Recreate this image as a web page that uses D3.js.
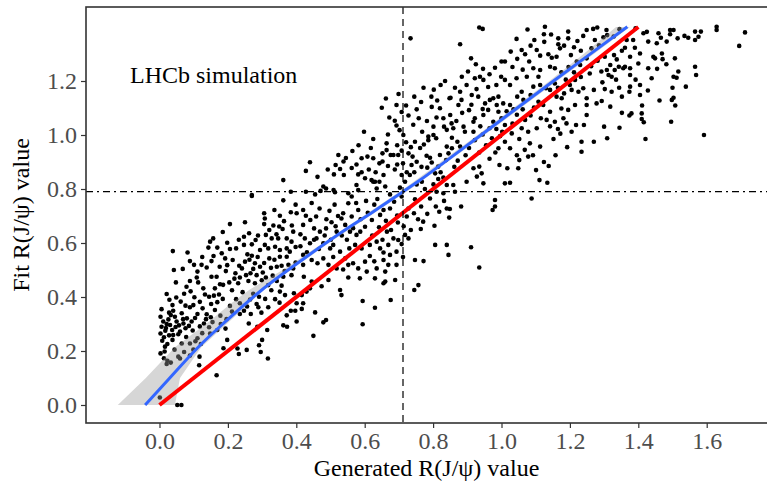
<!DOCTYPE html>
<html><head><meta charset="utf-8">
<script src="https://cdn.jsdelivr.net/npm/d3@7"></script>
<style>html,body{margin:0;padding:0;background:#fff;}svg{display:block;}</style>
</head><body>
<svg id="chart" width="767" height="485"></svg>
<script>
// ---- data ----
const xTicks = [0, 0.2, 0.4, 0.6, 0.8, 1.0, 1.2, 1.4, 1.6];
const yTicks = [0, 0.2, 0.4, 0.6, 0.8, 1.0, 1.2];
const xTitle = "Generated R(J/\u03C8) value";
const yTitle = "Fit R(J/\u03C8) value";
const annotation = "LHCb simulation";
const vLineX = 0.712;
const hLineY = 0.79;
const redX = [0, 1.4];
const redY = [0, 1.4];
const blueX = [-0.042, 0.030, 0.113, 0.185, 0.299, 0.430, 0.528, 0.625, 0.712, 0.762, 0.957, 1.151, 1.368];
const blueY = [0, 0.100, 0.214, 0.300, 0.426, 0.549, 0.636, 0.716, 0.790, 0.833, 1.016, 1.199, 1.401];
const bandY  = [0, 0.1, 0.214, 0.302, 0.377, 0.426, 0.5, 0.6, 0.8, 1.0, 1.2, 1.3, 1.4];
const bandLo = [-0.122, -0.040, 0.045, 0.138, 0.210, 0.262, 0.360, 0.478, 0.714, 0.930, 1.140, 1.240, 1.335];
const bandHi = [0.045, 0.060, 0.122, 0.198, 0.262, 0.305, 0.384, 0.495, 0.734, 0.950, 1.162, 1.270, 1.375];
const samples = [
[0.021,0.411],[0.091,0.421],[0.102,0.399],[0.145,0.401],[0.159,0.405],[0.174,0.409],[0.185,0.393],[0.169,0.381],[0.151,0.374],[0.206,0.367],[0.235,0.377],[0.265,0.391],[0.284,0.374],[0.318,0.362],[0.289,0.362],[0.352,0.420],[0.367,0.407],[0.393,0.414],[0.401,0.377],[0.062,0.383],[0.076,0.368],[0.089,0.362],[0.099,0.370],[0.038,0.370],[0.040,0.349],[0.033,0.333],[0.003,0.327],[0.011,0.309],[0.021,0.300],[0.006,0.290],[0.017,0.275],[0.037,0.278],[0.050,0.309],[0.057,0.295],[0.070,0.302],[0.076,0.284],[0.086,0.293],[0.111,0.337],[0.126,0.358],[0.138,0.336],[0.150,0.325],[0.130,0.302],[0.145,0.288],[0.155,0.307],[0.235,0.337],[0.247,0.349],[0.267,0.337],[0.291,0.401],[0.351,0.379],[0.384,0.349],[0.372,0.332],[0.397,0.349],[0.401,0.309],[0.373,0.290],[0.362,0.295],[0.003,0.265],[0.013,0.251],[0.028,0.258],[0.038,0.241],[0.023,0.226],[0.065,0.228],[0.089,0.228],[0.105,0.236],[0.111,0.247],[0.148,0.265],[0.169,0.278],[0.179,0.300],[0.193,0.283],[0.261,0.302],[0.286,0.290],[0.315,0.278],[0.003,0.191],[0.013,0.173],[0.023,0.164],[0.033,0.157],[0.021,0.152],[0.060,0.172],[0.089,0.183],[0.117,0.179],[0.116,0.147],[0.228,0.209],[0.232,0.189],[0.255,0.204],[0.291,0.221],[0.296,0.196],[0.300,0.241],[0.317,0.172],[0.198,0.241],[0.167,0.110],[0.001,0.028],[0.052,0.0],[0.064,0.0],[0.026,0.317],[0.045,0.327],[0.065,0.340],[0.080,0.321],[0.094,0.309],[0.031,0.296],[0.060,0.272],[0.040,0.259],[0.016,0.216],[0.187,0.210],[0.055,0.179],
[0.270,0.774],[0.306,0.710],[0.308,0.691],[0.384,0.714],[0.401,0.710],[0.206,0.670],[0.250,0.677],[0.306,0.670],[0.333,0.665],[0.350,0.661],[0.364,0.681],[0.360,0.652],[0.387,0.665],[0.391,0.642],[0.311,0.630],[0.328,0.617],[0.347,0.617],[0.372,0.617],[0.386,0.605],[0.247,0.623],[0.281,0.611],[0.157,0.617],[0.148,0.605],[0.198,0.601],[0.169,0.583],[0.143,0.583],[0.224,0.580],[0.247,0.593],[0.270,0.595],[0.308,0.593],[0.294,0.574],[0.318,0.580],[0.338,0.586],[0.352,0.574],[0.372,0.580],[0.381,0.568],[0.039,0.570],[0.082,0.565],[0.089,0.533],[0.123,0.519],[0.138,0.509],[0.152,0.533],[0.182,0.562],[0.192,0.543],[0.214,0.537],[0.233,0.516],[0.250,0.531],[0.257,0.558],[0.270,0.553],[0.279,0.525],[0.294,0.512],[0.274,0.504],[0.321,0.543],[0.352,0.549],[0.372,0.549],[0.343,0.512],[0.357,0.516],[0.377,0.519],[0.391,0.506],[0.042,0.500],[0.068,0.504],[0.111,0.494],[0.109,0.472],[0.089,0.459],[0.113,0.454],[0.048,0.454],[0.152,0.475],[0.167,0.475],[0.177,0.447],[0.194,0.496],[0.204,0.454],[0.222,0.488],[0.235,0.472],[0.253,0.481],[0.260,0.459],[0.284,0.481],[0.302,0.491],[0.311,0.472],[0.331,0.479],[0.343,0.459],[0.362,0.475],[0.386,0.481],[0.230,0.451],[0.279,0.451],[0.318,0.444],[0.357,0.442],[0.079,0.438],[0.128,0.432],[0.162,0.432],
[0.420,0.722],[0.497,0.719],[0.562,0.772],[0.552,0.747],[0.581,0.722],[0.537,0.710],[0.532,0.691],[0.637,0.763],[0.655,0.722],[0.674,0.728],[0.686,0.753],[0.728,0.728],[0.723,0.698],[0.744,0.710],[0.771,0.679],[0.791,0.765],[0.808,0.735],[0.818,0.716],[0.832,0.756],[0.840,0.728],[0.420,0.667],[0.441,0.685],[0.452,0.654],[0.469,0.642],[0.487,0.654],[0.503,0.677],[0.518,0.642],[0.543,0.667],[0.557,0.642],[0.576,0.630],[0.601,0.660],[0.621,0.685],[0.645,0.704],[0.665,0.642],[0.684,0.617],[0.698,0.611],[0.718,0.630],[0.728,0.617],[0.804,0.664],[0.806,0.593],[0.840,0.593],[0.845,0.556],[0.425,0.617],[0.440,0.599],[0.459,0.617],[0.479,0.599],[0.499,0.580],[0.508,0.593],[0.528,0.568],[0.555,0.580],[0.572,0.593],[0.591,0.580],[0.615,0.593],[0.635,0.605],[0.645,0.580],[0.669,0.593],[0.674,0.556],[0.693,0.568],[0.655,0.537],[0.669,0.519],[0.660,0.494],[0.693,0.519],[0.747,0.537],[0.772,0.533],[0.757,0.444],[0.745,0.426],[0.420,0.556],[0.420,0.519],[0.445,0.537],[0.479,0.543],[0.494,0.519],[0.518,0.506],[0.543,0.543],[0.552,0.519],[0.581,0.506],[0.601,0.531],[0.606,0.494],[0.586,0.469],[0.635,0.506],[0.630,0.469],[0.552,0.472],[0.494,0.463],[0.474,0.440],[0.445,0.457],[0.422,0.475],[0.440,0.432],[0.416,0.407],[0.528,0.426],[0.532,0.407],[0.655,0.451],[0.660,0.457],[0.689,0.463],[0.594,0.385],[0.630,0.360],[0.676,0.389],[0.455,0.343],[0.487,0.315],[0.479,0.306],[0.594,0.299],[0.416,0.356],[0.420,0.377],[0.430,0.420],[0.450,0.256],
[0.650,1.101],[0.693,1.111],[0.721,1.109],[0.752,1.095],[0.796,1.104],[0.820,1.099],[0.848,1.136],[0.672,1.065],[0.688,1.053],[0.693,1.035],[0.810,1.065],[0.830,1.062],[0.832,1.031],[0.801,1.031],[0.598,1.012],[0.713,1.000],[0.786,0.994],[0.801,1.000],[0.809,0.988],[0.840,1.019],[0.664,0.969],[0.721,0.973],[0.747,0.975],[0.773,0.965],[0.786,0.981],[0.840,0.957],[0.664,0.944],[0.708,0.942],[0.728,0.932],[0.564,0.941],[0.523,0.926],[0.591,0.914],[0.608,0.920],[0.625,0.914],[0.676,0.926],[0.684,0.926],[0.698,0.926],[0.740,0.920],[0.781,0.923],[0.791,0.916],[0.820,0.926],[0.845,0.932],[0.440,0.899],[0.576,0.891],[0.643,0.895],[0.695,0.891],[0.752,0.901],[0.737,0.889],[0.783,0.879],[0.815,0.883],[0.515,0.889],[0.528,0.874],[0.428,0.867],[0.510,0.854],[0.539,0.852],[0.581,0.854],[0.591,0.862],[0.601,0.840],[0.625,0.827],[0.630,0.827],[0.620,0.833],[0.643,0.827],[0.660,0.809],[0.655,0.852],[0.708,0.852],[0.723,0.862],[0.732,0.852],[0.718,0.827],[0.703,0.805],[0.752,0.817],[0.767,0.827],[0.776,0.800],[0.801,0.817],[0.815,0.837],[0.830,0.842],[0.840,0.815],[0.479,0.809],[0.471,0.793],[0.487,0.802],[0.509,0.796],[0.513,0.788],[0.455,0.780],[0.428,0.790],[0.384,0.790],[0.576,0.815],[0.581,0.796],[0.552,0.784],[0.635,0.802],[0.674,0.780],[0.810,0.790],[0.830,0.784],
[0.270,0.778],[0.362,0.833],[0.734,1.358],
[0.935,1.398],[0.945,1.393],[0.879,1.336],[0.911,1.284],[0.835,1.200],[1.076,1.391],[1.127,1.401],[1.124,1.373],[1.044,1.356],[1.027,1.309],[1.059,1.315],[1.069,1.299],[1.103,1.315],[1.113,1.294],[1.137,1.299],[1.147,1.286],[1.161,1.290],[1.166,1.358],[1.166,1.336],[1.195,1.383],[1.222,1.348],[1.249,1.389],[1.268,1.393],[1.280,1.398],[1.239,1.367],[1.273,1.352],[1.263,1.321],[1.183,1.331],[1.171,1.321],[1.000,1.272],[1.010,1.272],[0.981,1.249],[0.999,1.216],[1.010,1.204],[1.044,1.210],[1.081,1.272],[1.093,1.247],[1.113,1.241],[1.074,1.216],[1.108,1.216],[1.142,1.253],[1.156,1.247],[1.203,1.296],[1.220,1.272],[1.230,1.259],[1.249,1.284],[0.884,1.216],[0.922,1.210],[0.937,1.216],[0.947,1.204],[0.961,1.178],[0.927,1.170],[0.913,1.148],[0.879,1.160],[0.864,1.175],[0.851,1.138],[0.883,1.130],[0.874,1.111],[0.854,1.043],[0.859,1.025],[0.889,1.031],[0.893,1.012],[0.918,1.049],[0.922,1.062],[0.947,1.074],[0.945,1.096],[0.952,1.117],[0.966,1.130],[0.976,1.136],[0.991,1.142],[1.005,1.117],[1.025,1.111],[1.046,1.142],[1.059,1.160],[1.064,1.130],[1.085,1.148],[1.093,1.179],[1.113,1.185],[1.130,1.173],[1.142,1.167],[1.156,1.191],[1.161,1.142],[1.176,1.136],[1.183,1.154],[1.200,1.185],[1.215,1.204],[1.205,1.167],[1.225,1.160],[1.239,1.173],[1.249,1.136],[1.270,1.167],[1.249,1.111],[1.278,1.117],[1.215,1.111],[1.195,1.093],[1.142,1.086],[1.122,1.111],[1.108,1.123],[0.986,1.111],[0.991,1.086],[0.961,1.093],[0.850,1.074],[0.855,0.990],[0.871,0.975],[0.879,0.957],[0.855,0.951],[0.918,1.012],[0.922,0.981],[0.976,1.049],[1.000,1.062],[1.010,1.037],[1.030,1.006],[1.059,1.025],[1.069,1.056],[1.078,1.012],[0.996,0.996],[1.010,0.975],[0.991,0.951],[1.025,0.951],[1.083,0.969],[1.113,0.957],[1.132,1.056],[1.156,1.049],[1.190,1.043],[1.218,1.037],[1.241,1.037],[1.249,1.074],[1.234,0.975],[1.270,0.975],[1.234,0.938],[1.181,1.062],[1.103,1.025],
[1.307,1.389],[1.309,1.370],[1.415,1.377],[1.459,1.377],[1.466,1.360],[1.493,1.389],[1.503,1.389],[1.493,1.373],[1.515,1.358],[1.535,1.367],[1.546,1.360],[1.566,1.383],[1.583,1.383],[1.566,1.352],[1.576,1.364],[1.629,1.401],[1.629,1.389],[1.712,1.380],[1.695,1.330],[1.366,1.352],[1.385,1.352],[1.429,1.346],[1.454,1.340],[1.483,1.346],[1.361,1.323],[1.390,1.323],[1.405,1.302],[1.376,1.290],[1.329,1.296],[1.302,1.290],[1.337,1.280],[1.444,1.290],[1.449,1.284],[1.469,1.302],[1.471,1.281],[1.507,1.284],[1.400,1.265],[1.429,1.247],[1.361,1.253],[1.376,1.247],[1.356,1.247],[1.343,1.253],[1.318,1.259],[1.308,1.241],[1.313,1.222],[1.322,1.216],[1.331,1.241],[1.376,1.222],[1.439,1.210],[1.517,1.235],[1.503,1.216],[1.512,1.212],[1.566,1.253],[1.569,1.222],[1.539,1.179],[1.500,1.175],[1.405,1.185],[1.376,1.179],[1.344,1.175],[1.302,1.170],[1.374,1.160],[1.405,1.148],[1.503,1.138],[1.498,1.130],[1.508,1.109],[1.411,1.109],[1.410,1.080],[1.380,1.080],[1.374,1.072],[1.410,1.059],[1.416,1.047],[1.496,1.049],[1.322,1.160],[1.293,1.126],[1.300,1.031],[1.345,1.027],[1.309,0.988],[1.421,0.985],[1.592,1.000],
[0.838,0.907],[0.918,0.877],[0.935,0.883],[0.942,0.858],[0.928,0.846],[0.947,0.821],[0.898,0.827],[0.859,0.815],[0.864,0.790],[0.994,0.889],[1.017,0.877],[1.025,0.823],[1.010,0.821],[1.052,0.907],[1.049,0.877],[1.078,0.920],[1.101,0.870],[1.111,0.833],[1.134,0.823],[1.124,0.900],[1.088,0.765],
[0.882,0.735],[0.849,0.726],[0.847,0.694],[0.911,0.584],[0.935,0.509],[0.974,0.722],[0.981,0.735],[0.981,0.759],
[0.008,0.238],[0.019,0.285],[0.028,0.342],[0.047,0.289],[0.055,0.262],[0.069,0.318],[0.078,0.252],[0.097,0.276],[0.104,0.322],[0.118,0.291],[0.125,0.266],[0.136,0.318],[0.015,0.198],[0.044,0.205],[0.072,0.196],[0.099,0.205],[0.121,0.226],[0.049,0.398],[0.072,0.412],[0.118,0.382],[0.133,0.409],[0.006,0.355],[0.029,0.390],
[0.162,0.352],[0.178,0.331],[0.196,0.318],[0.212,0.346],[0.224,0.392],[0.243,0.418],[0.256,0.365],[0.274,0.412],[0.298,0.342],[0.309,0.393],[0.327,0.425],[0.338,0.392],[0.212,0.425],[0.186,0.445],[0.198,0.518],[0.219,0.468],[0.241,0.506],[0.263,0.538],[0.287,0.548],[0.306,0.526],[0.326,0.508],[0.336,0.538],[0.299,0.462],[0.266,0.488],[0.176,0.512],[0.158,0.552],[0.125,0.548],[0.101,0.519],[0.206,0.578],[0.232,0.612],[0.262,0.636],[0.288,0.628],[0.321,0.648],[0.342,0.632],[0.185,0.641],
[0.366,0.496],[0.398,0.528],[0.412,0.588],[0.431,0.566],[0.452,0.612],[0.466,0.578],[0.483,0.628],[0.501,0.612],[0.515,0.662],[0.533,0.628],[0.548,0.612],[0.566,0.655],[0.587,0.642],[0.562,0.698],[0.588,0.688],[0.609,0.712],[0.628,0.742],[0.604,0.756],[0.575,0.748],[0.512,0.742],[0.468,0.728],[0.445,0.748],[0.398,0.742],[0.362,0.758],[0.336,0.722],[0.352,0.701],[0.428,0.701],[0.458,0.698],[0.488,0.688],[0.522,0.700],[0.412,0.632],[0.398,0.585],[0.462,0.525],[0.508,0.548],[0.537,0.502],[0.566,0.525],[0.615,0.552],[0.628,0.532],[0.655,0.565],[0.708,0.596],[0.712,0.548],[0.622,0.628],[0.652,0.612],[0.677,0.648],[0.697,0.676],[0.714,0.662],[0.735,0.648],[0.756,0.688],[0.764,0.652],[0.783,0.708],[0.765,0.735],[0.747,0.762],[0.708,0.772],[0.695,0.702],[0.662,0.682],[0.642,0.658],
[0.462,0.845],[0.492,0.872],[0.538,0.902],[0.562,0.878],[0.612,0.872],[0.632,0.862],[0.652,0.902],[0.668,0.885],[0.688,0.872],[0.712,0.895],[0.745,0.862],[0.766,0.882],[0.796,0.898],[0.806,0.858],[0.822,0.862],[0.762,0.952],[0.735,0.955],[0.695,0.962],[0.652,0.932],[0.618,0.952],[0.582,0.962],[0.545,0.915],[0.625,0.985],[0.668,1.002],[0.702,1.018],[0.742,1.038],[0.768,1.012],[0.758,1.062],[0.782,1.052],[0.728,1.072],[0.708,1.085],[0.765,1.122],[0.795,1.142],[0.812,1.128],[0.772,1.175],[0.802,1.168],[0.822,1.185],[0.745,1.142],[0.699,1.152],[0.662,1.135],
[0.862,0.882],[0.872,0.905],[0.895,0.925],[0.905,0.952],[0.935,0.935],[0.955,0.962],[0.965,0.912],[0.982,0.935],[0.972,0.988],[0.945,1.002],[0.938,1.032],[0.965,1.025],[0.985,1.022],[1.002,1.012],[1.032,1.042],[1.045,1.075],[1.035,1.095],[1.015,1.088],[1.062,1.095],[1.085,1.072],[1.095,1.102],[1.115,1.062],[1.142,1.032],[1.165,1.022],[1.175,1.098],[1.165,1.175],[1.188,1.205],[1.175,1.232],[1.196,1.252],[1.212,1.232],[1.232,1.215],[1.258,1.228],[1.262,1.255],[1.281,1.275],[1.292,1.235],[1.295,1.195],[1.285,1.332],[1.298,1.362],[1.232,1.312],[1.212,1.325],[1.195,1.358],[1.145,1.372],[1.125,1.345],[1.096,1.352],[1.085,1.331],[1.046,1.282],[1.032,1.252],[1.062,1.242],[1.025,1.185],[0.985,1.185],[0.965,1.225],[0.946,1.245],[0.925,1.262],[0.902,1.235],[0.898,1.185],[0.912,1.112],[0.885,1.082],[0.868,1.052],[0.905,1.092],[0.932,1.142],[1.052,0.985],[1.068,0.945],[1.045,0.925],[1.092,0.925],[1.152,0.985],[1.172,1.005],[1.205,1.012],[1.158,0.925],[1.138,0.885],[1.192,0.955],
[1.328,1.365],[1.345,1.392],[1.392,1.395],[1.425,1.382],[1.352,1.312],[1.335,1.205],[1.352,1.142],[1.392,1.205],[1.455,1.245],[1.482,1.262],[1.428,1.165],[1.462,1.128],[1.352,1.082],[1.318,1.105]
];

// ---- layout ----
const svg = d3.select("#chart");
const panel = {left: 86, top: 7, right: 770, bottom: 423};
const x = d3.scaleLinear().domain([-0.2149, 1.7763]).range([86, 767]);
const y = d3.scaleLinear().domain([-0.0667, 1.4741]).range([423, 7]);
const serif = "'Liberation Serif','Times New Roman',serif";

// points
svg.append("g").selectAll("circle").data(samples).join("circle")
  .attr("cx", d => x(d[0])).attr("cy", d => y(d[1])).attr("r", 2.3).attr("fill", "#000");

// confidence band (horizontal, x given y)
const bandData = bandY.map((v, i) => ({y: v, lo: bandLo[i], hi: bandHi[i]}));
svg.append("path").datum(bandData)
  .attr("d", d3.area().y(d => y(d.y)).x0(d => x(d.lo)).x1(d => x(d.hi)))
  .attr("fill", "#999999").attr("fill-opacity", 0.4);

// blue smooth
svg.append("path").datum(blueX.map((v, i) => [v, blueY[i]]))
  .attr("d", d3.line().x(d => x(d[0])).y(d => y(d[1])).curve(d3.curveCatmullRom))
  .attr("fill", "none").attr("stroke", "#3366FF").attr("stroke-width", 3);

// red line y = x
svg.append("path").datum(redX.map((v, i) => [v, redY[i]]))
  .attr("d", d3.line().x(d => x(d[0])).y(d => y(d[1])))
  .attr("fill", "none").attr("stroke", "#FF0000").attr("stroke-width", 4);

// reference lines
svg.append("line").attr("x1", x(vLineX)).attr("x2", x(vLineX)).attr("y1", panel.top).attr("y2", panel.bottom)
  .attr("stroke", "#000").attr("stroke-width", 1.2).attr("stroke-dasharray", "7,5");
svg.append("line").attr("x1", panel.left).attr("x2", 767).attr("y1", y(hLineY)).attr("y2", y(hLineY))
  .attr("stroke", "#000").attr("stroke-width", 1.2).attr("stroke-dasharray", "7,4,2,4");

// panel border
svg.append("rect").attr("x", panel.left).attr("y", panel.top)
  .attr("width", panel.right - panel.left).attr("height", panel.bottom - panel.top)
  .attr("fill", "none").attr("stroke", "#333").attr("stroke-width", 1.6);

// axes
const fmt = d3.format(".1f");
const xAxis = svg.append("g").attr("transform", `translate(0,${panel.bottom})`)
  .call(d3.axisBottom(x).tickValues(xTicks).tickFormat(fmt).tickSize(5).tickPadding(4));
const yAxis = svg.append("g").attr("transform", `translate(${panel.left},0)`)
  .call(d3.axisLeft(y).tickValues(yTicks).tickFormat(fmt).tickSize(5).tickPadding(4));
[xAxis, yAxis].forEach(a => {
  a.select(".domain").remove();
  a.selectAll(".tick line").attr("stroke", "#333").attr("stroke-width", 1.2);
  a.selectAll(".tick text").attr("fill", "#4D4D4D").style("font-family", serif).style("font-size", "24px");
});

// titles
svg.append("text").attr("x", (86 + 767) / 2).attr("y", 476).attr("text-anchor", "middle")
  .style("font-family", serif).style("font-size", "24px").attr("fill", "#000").text(xTitle);
svg.append("text").attr("transform", `translate(29,215) rotate(-90)`).attr("text-anchor", "middle")
  .style("font-family", serif).style("font-size", "24px").attr("fill", "#000").text(yTitle);
svg.append("text").attr("x", 130).attr("y", 83)
  .style("font-family", serif).style("font-size", "24px").attr("fill", "#000").text(annotation);
</script>
</body></html>
